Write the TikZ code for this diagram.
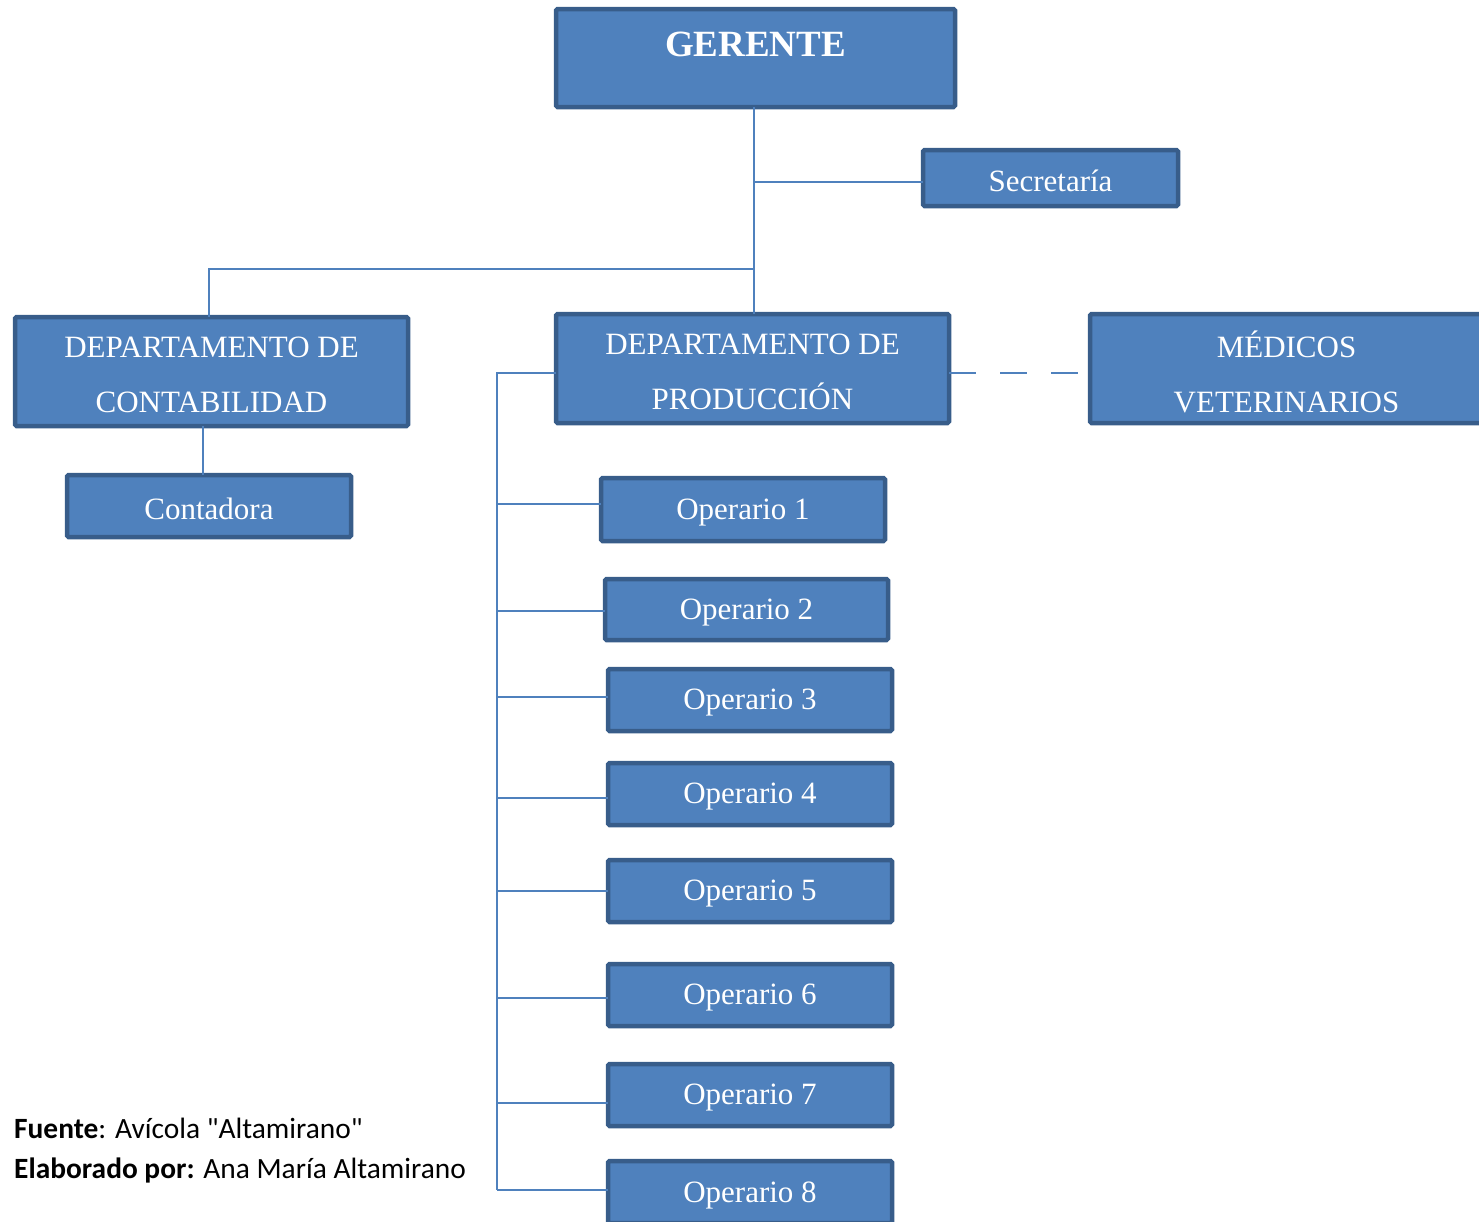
\documentclass[tikz,border=0pt]{standalone}
\usepackage{fontspec}
\setmainfont{Liberation Serif}
\newfontfamily\calibrifont{Carlito}
\definecolor{boxfill}{HTML}{4F81BD}
\definecolor{boxline}{HTML}{385D8A}
\definecolor{connc}{HTML}{4F81BD}
\tikzset{
  orgbox/.style={draw=boxline, line width=4.5pt, fill=boxfill, rounded corners=1.5pt,
    inner sep=0pt, outer sep=0pt},
  boxtext/.style={text=white, align=center, inner sep=0pt, yshift=-3pt,
    font=\fontsize{31}{55}\selectfont},
  conn/.style={draw=connc, line width=2pt},
}
\begin{document}
\begin{tikzpicture}[x=1pt,y=-1pt]
\useasboundingbox (0,0) rectangle (1479,1221);
% boxes
\node[orgbox, minimum width=399pt, minimum height=98pt] (ger) at (755.5,58) {};
\node[text=white, font=\fontsize{37}{40}\selectfont\bfseries, anchor=base, inner sep=0pt] (gertxt) at (755.5,56) {GERENTE};
\node[orgbox, minimum width=255pt, minimum height=56pt, label={[boxtext]center:Secretaría}] (sec) at (1050.5,178) {};
\node[orgbox, minimum width=393pt, minimum height=109pt, label={[boxtext]center:{DEPARTAMENTO DE\\CONTABILIDAD}}] (cont) at (211.5,371.5) {};
\node[orgbox, minimum width=393pt, minimum height=109pt, label={[boxtext]center:{DEPARTAMENTO DE\\PRODUCCIÓN}}] (prod) at (752.5,368.5) {};
\node[orgbox, minimum width=393pt, minimum height=109pt, label={[boxtext]center:{MÉDICOS\\VETERINARIOS}}] (med) at (1286.5,368.5) {};
\node[orgbox, minimum width=284pt, minimum height=62pt, label={[boxtext]center:Contadora}] (cdra) at (209,506) {};
\node[orgbox, minimum width=284pt, minimum height=63pt, label={[boxtext]center:Operario 1}] (op1) at (743,509.5) {};
\node[orgbox, minimum width=283pt, minimum height=61pt, label={[boxtext]center:Operario 2}] (op2) at (746.5,609.5) {};
\node[orgbox, minimum width=284pt, minimum height=62pt, label={[boxtext]center:Operario 3}] (op3) at (750,700) {};
\node[orgbox, minimum width=284pt, minimum height=62pt, label={[boxtext]center:Operario 4}] (op4) at (750,794) {};
\node[orgbox, minimum width=284pt, minimum height=62pt, label={[boxtext]center:Operario 5}] (op5) at (750,891) {};
\node[orgbox, minimum width=284pt, minimum height=62pt, label={[boxtext]center:Operario 6}] (op6) at (750,995) {};
\node[orgbox, minimum width=284pt, minimum height=62pt, label={[boxtext]center:Operario 7}] (op7) at (750,1095) {};
\node[orgbox, minimum width=284pt, minimum height=62pt, label={[boxtext]center:Operario 8}] (op8) at (750,1192) {};
% junctions
\coordinate (jB) at (754,269);
\coordinate (jA) at (209,269);
\coordinate (jC) at (203,0);
\coordinate (bus) at (497,0);
% connectors
\draw[conn] (ger.south -| jB) -- (jB |- prod.north);
\draw[conn] ([yshift=-4pt]sec.west) -- ([yshift=-4pt]sec.west -| jB);
\draw[conn] (jB) -- (jA) -- (jA |- cont.north);
\draw[conn] (cont.south -| jC) -- (jC |- cdra.north);
\draw[conn] ([yshift=-4.5pt]prod.west) -- ([yshift=-4.5pt]prod.west -| bus) -- ([yshift=2pt]bus |- op8.west);
\foreach \n/\d in {op1/5.5,op2/-1.5,op3/3,op4/-4,op5/0,op6/-3,op7/-8,op8/2}
  \draw[conn] ([yshift=\d pt]\n.west) -- ([yshift=\d pt]\n.west -| bus);
\draw[conn, dash pattern=on 27pt off 24pt] ([yshift=-4.5pt]prod.east) -- ([yshift=-4.5pt]med.west);
% footer
\node[anchor=base west, inner sep=0pt, font=\calibrifont\fontsize{29.4}{40}\selectfont] (src) at (14,1138) {\textbf{Fuente}: Avícola "Altamirano"};
\node[anchor=base west, inner sep=0pt, font=\calibrifont\fontsize{29.4}{40}\selectfont] (auth) at (14,1178) {\textbf{Elaborado por:} Ana María Altamirano};
\end{tikzpicture}
\end{document}
